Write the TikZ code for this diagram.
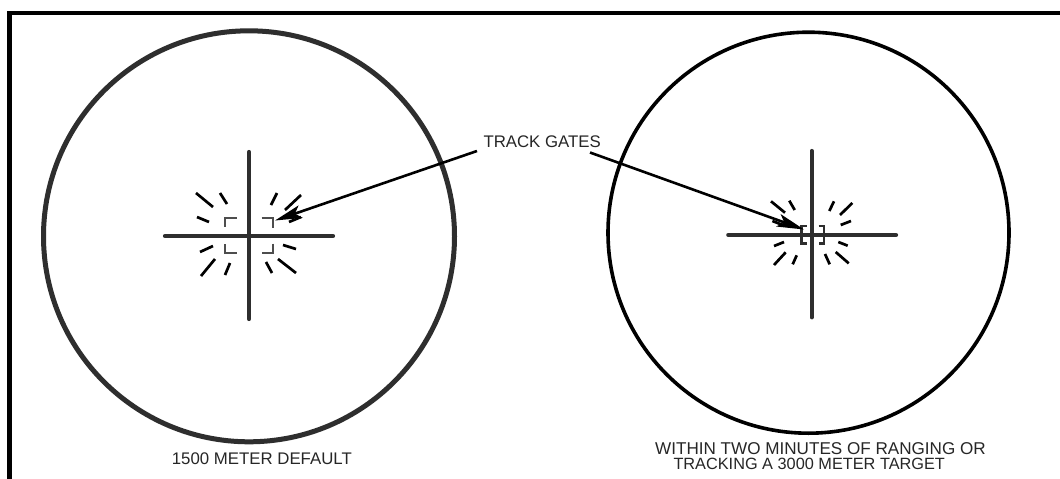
\documentclass[tikz,border=0pt]{standalone}
\usepackage{fontspec}
\setmainfont{Liberation Sans}
\usetikzlibrary{arrows.meta}
\definecolor{ink}{HTML}{2E2E2E}
\definecolor{txt}{HTML}{262626}
\tikzset{
  frame/.style={line width=4.5pt, black, line join=miter},
  scope1/.style={line width=5pt, ink},
  scope2/.style={line width=3.6pt, black},
  hair/.style={line width=4.2pt, ink, line cap=round},
  ray/.style={line width=2.7pt, black},
  gate/.style={line width=1.9pt, ink!85},
  gate2/.style={line width=2.4pt, ink},
  pointer/.style={line width=2.6pt, black, -{Stealth[length=27pt, width=13pt, inset=6pt]}},
  lbl/.style={inner sep=0pt, anchor=base west, text=txt, font=\fontsize{16.8}{18}\selectfont},
}
\begin{document}
\begin{tikzpicture}[x=1pt, y=-1pt]
\useasboundingbox (0,0) rectangle (1060,479);
\fill[white] (0,0) rectangle (1060,479);
% frame
\draw[frame] (9.7,485) -- (9.7,13) -- (1070,13);
% circles
\coordinate (cL) at (249,236.3);
\coordinate (cR) at (808.5,232.7);
\draw[scope1] (cL) circle[radius=205.5pt];
\draw[scope2] (cR) circle[radius=200.5pt];
% left reticle
\begin{scope}[shift={(249,236)}]
  \draw[hair] (-84,0) -- (84,0);
  \draw[hair] (0,-84) -- (0,83);
  \draw[gate] (-12.3,-18.3) -- (-24,-18.3) -- (-24,-9);
  \draw[gate] (12.5,-18.3) -- (24,-18.3) -- (24,-8.5);
  \draw[gate] (-24,8) -- (-24,16.7) -- (-12.3,16.7);
  \draw[gate] (24,7.5) -- (24,16.7) -- (12.5,16.7);
  \foreach \a/\b/\c/\d in {-53/-43/-36/-29, -29/-43/-22/-32, -52/-19/-40/-14,
      28/-43/22/-31, 52/-41/36/-26, 52/-19/40/-14,
      -36/10/-49/16, -34/23/-48/40, -19/27/-24/39,
      34/9/47/13, 29/23/47/37, 17/26/23/37}
    \draw[ray] (\a,\b) -- (\c,\d);
\end{scope}
% right reticle
\begin{scope}[shift={(811.7,235)}]
  \draw[hair] (-83.4,0) -- (84.3,0);
  \draw[hair] (0,-84) -- (0,82.3);
  \draw[gate2] (-5,-9) -- (-10.3,-9) -- (-10.3,8.3) -- (-5,8.3);
  \draw[gate2] (6.8,-9) -- (12.3,-9) -- (12.3,8.3) -- (6.8,8.3);
  \foreach \a/\b/\c/\d in {-40.7/-33.7/-26.7/-22.3, -22.4/-34.3/-17/-25, -29/-10/-39.3/-14,
      17.6/-24/22.3/-33.7, 28.3/-20/40.6/-32, 29/-10/39.3/-14,
      -37.7/11/-27.7/7, -37.7/30/-26/17.3, -19/29.3/-15/20.3,
      26.6/7/36/10.7, 24/17/37/28.3, 13.3/19/18/29.3}
    \draw[ray] (\a,\b) -- (\c,\d);
\end{scope}
% labels
\node[lbl] (tg) at (483.3,147.7) {TRACK GATES};
\node[lbl] (l1) at (171.7,464.3) {1500 METER DEFAULT};
\node[lbl, font=\fontsize{17.1}{18}\selectfont] (r1) at (655,454.3) {WITHIN TWO MINUTES OF RANGING OR};
\node[lbl, font=\fontsize{16.3}{18}\selectfont] (r2) at (673.3,469.9) {TRACKING A 3000 METER TARGET};
% pointers
\coordinate (sL) at (477,151);
\coordinate (tL) at (275,220.5);
\coordinate (sR) at (590,152.5);
\coordinate (tR) at (804,229.5);
\draw[pointer] (sL) -- (tL);
\draw[pointer] (sR) -- (tR);
\end{tikzpicture}
\end{document}
